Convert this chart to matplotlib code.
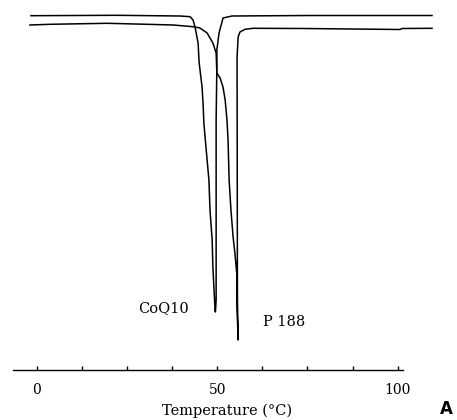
import matplotlib
matplotlib.use('Agg')
import matplotlib.pyplot as plt
from matplotlib.ticker import FixedLocator

# DSC thermograms (temperature in degC, heat flow in arbitrary units)
coq10_temp = [-1.6, 22.2, 39.7, 42.5, 43.3, 43.85, 44.7, 45.0, 45.8, 46.1, 46.3, 47.2,
              47.7, 48.0, 48.6, 48.8, 49.4, 49.5, 49.7, 49.7, 49.9, 49.9, 50.5, 51.1,
              51.6, 54.1, 75.7, 109.5]
coq10_flow = [0.03, 0.07, 0.0, -0.07, -0.4, -1.1, -2.7, -4.7, -7.1, -8.9, -10.7, -14.4,
              -16.4, -19.4, -22.4, -25.1, -29.4, -29.6, -28.4, -10.4, -5.1, -3.4, -1.7, -0.9,
              -0.2, 0.0, 0.05, 0.05]

p188_temp = [-1.9, 3.7, 19.5, 30.6, 37.8, 43.3, 45.2, 47.2, 48.8, 49.7, 49.9, 50.8,
             51.6, 52.2, 52.7, 53.0, 53.3, 53.8, 54.4, 54.9, 55.5, 55.5, 55.8, 55.6,
             55.5, 55.8, 56.3, 57.7, 59.9, 73.8, 100.6, 101.2, 109.5]
p188_flow = [-0.9, -0.83, -0.73, -0.83, -0.9, -1.07, -1.2, -1.7, -2.7, -3.7, -5.7, -6.2,
             -7.1, -8.4, -10.4, -12.4, -16.4, -19.4, -22.1, -23.7, -26.1, -29.4, -32.4, -28.4,
             -4.1, -2.1, -1.6, -1.33, -1.23, -1.25, -1.35, -1.25, -1.23]

major_ticks = [0, 50, 100]
minor_ticks = [12.5, 25, 37.5, 62.5, 75, 87.5]

fig = plt.figure(figsize=(4.57, 4.20), dpi=100)
ax = fig.add_axes([0, 0, 1, 1])

ax.plot(coq10_temp, coq10_flow, color='black', lw=1.1)
ax.plot(p188_temp, p188_flow, color='black', lw=1.1)

ax.set_xlim(-10.17, 116.42)
ax.set_ylim(-40.4, 1.6)

# only a bottom axis line, shorter than the traces
for s in ['top', 'right', 'left']:
    ax.spines[s].set_visible(False)
ax.spines['bottom'].set_position(('data', -35.4))
ax.spines['bottom'].set_bounds(-6.5, 101.5)
ax.spines['bottom'].set_linewidth(1)
ax.set_yticks([])
ax.xaxis.set_major_locator(FixedLocator(major_ticks))
ax.xaxis.set_minor_locator(FixedLocator(minor_ticks))
ax.tick_params(axis='x', which='both', direction='in', length=3, width=1, pad=9,
               labelsize=10)
for lab in ax.get_xticklabels():
    lab.set_family('DejaVu Serif')

ax.text(35.0, -29.2, 'CoQ10', family='DejaVu Serif', fontsize=10.5, ha='center', va='center')
ax.text(62.7, -30.6, 'P 188', family='DejaVu Serif', fontsize=10.5, ha='left', va='center')

fig.text(0.497, 0.0214, 'Temperature (\u00b0C)', family='DejaVu Serif', fontsize=10.5,
         ha='center', va='center')
fig.text(0.962, 0.004, 'A', fontsize=12, fontweight='bold', ha='left', va='bottom')

fig.savefig('out.png', dpi=100)
